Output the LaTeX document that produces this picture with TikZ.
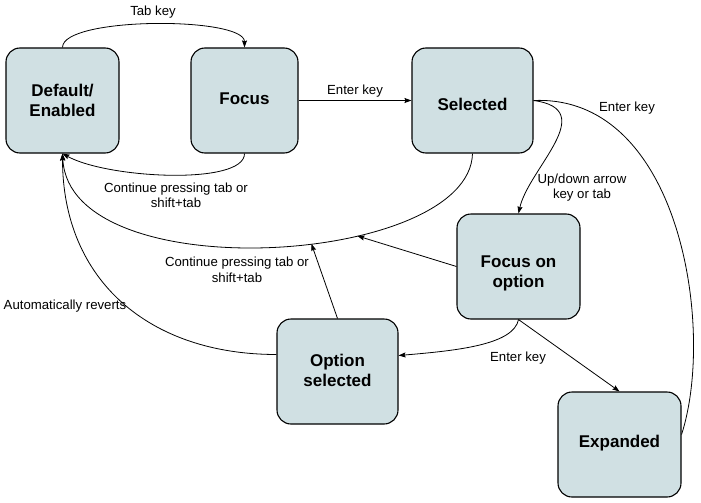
\documentclass[tikz,border=0pt]{standalone}
\usepackage{fontspec}
\setmainfont{Liberation Sans}
\usetikzlibrary{arrows.meta}
\definecolor{statefill}{HTML}{D0E0E3}
% move a line of state text up or down without changing its box
\newcommand\txtshift[2]{\raisebox{#1}[\height][\depth]{#2}}
\begin{document}
\begin{tikzpicture}[x=1pt,y=-1pt,
  state/.style={draw=black, line width=1.1pt, fill=statefill, rounded corners=14pt,
    align=center, font=\fontsize{17}{20}\selectfont\bfseries, inner sep=0pt},
  edge/.style={draw=black, line width=0.8pt},
  arr/.style={edge, -{Stealth[length=7pt,width=5pt,inset=1pt]}},
  lbl/.style={font=\fontsize{13.2}{15.5}\selectfont, align=center, text=black, inner sep=0pt}]
\useasboundingbox (0,0) rectangle (701,503);

% states
\node[state, minimum width=113pt, minimum height=105pt] (def)   at (62.5,100.5)  {Default/\\Enabled};
\node[state, minimum width=107pt, minimum height=105pt] (focus) at (244.5,100.5) {\txtshift{1.5pt}{Focus}};
\node[state, minimum width=121pt, minimum height=105pt] (sel)   at (472.5,100.5) {\txtshift{-4pt}{Selected}};
\node[state, minimum width=123pt, minimum height=105pt] (fopt)  at (518.5,266.5)
  {\txtshift{-7pt}{Focus on}\\\txtshift{-7pt}{option}};
\node[state, minimum width=121pt, minimum height=105pt] (osel)  at (337.5,371.5)
  {\txtshift{1pt}{Option}\\\txtshift{1pt}{selected}};
\node[state, minimum width=123pt, minimum height=105pt] (exp)   at (619.5,444.5) {\txtshift{1.5pt}{Expanded}};

% transitions
\draw[arr] (def.north) .. controls +(0,-31) and +(0,-31) .. (focus.north);
\draw[arr] (focus.south) .. controls +(0,32) and +(45,25) .. (def.south);
\draw[arr] (focus.east) -- (sel.west);
\draw[arr] (sel.south) .. controls +(-3,112) and +(7.5,137) .. (def.south)
  coordinate[pos=0.35] (m1) coordinate[pos=0.43] (m2);
\draw[arr] (fopt.west) -- (m1);
\draw[arr] (osel.north) -- (m2);
\draw[arr] ([yshift=17pt]osel.west) .. controls +(-127,0) and +(0,127) .. (def.south);
\draw[arr] (fopt.south) .. controls +(-5,25) and +(60,-5) .. ([yshift=16pt]osel.east);
\draw[arr] (fopt.south) -- (exp.north);
\draw[arr] (sel.east) .. controls +(67,9) and +(10,-45) .. (fopt.north);
\draw[edge] (sel.east) .. controls +(147,-6) and +(34,-105) .. ([yshift=10pt]exp.east);

% transition labels
\node[lbl] (ltab)    at (153,12)    {Tab key};
\node[lbl] (lenter1) at (355,91)    {Enter key};
\node[lbl] (lcont1)  at (176,195.5) {Continue pressing tab or\\shift+tab};
\node[lbl] (lcont2)  at (237,270)   {Continue pressing tab or\\shift+tab};
\node[lbl] (lupdown) at (582,187.5) {Up/down arrow\\key or tab};
\node[lbl] (lenter2) at (627,108)   {Enter key};
\node[lbl] (lauto)   at (65,306)    {Automatically reverts};
\node[lbl] (lenter3) at (518,358)   {Enter key};
\end{tikzpicture}
\end{document}
